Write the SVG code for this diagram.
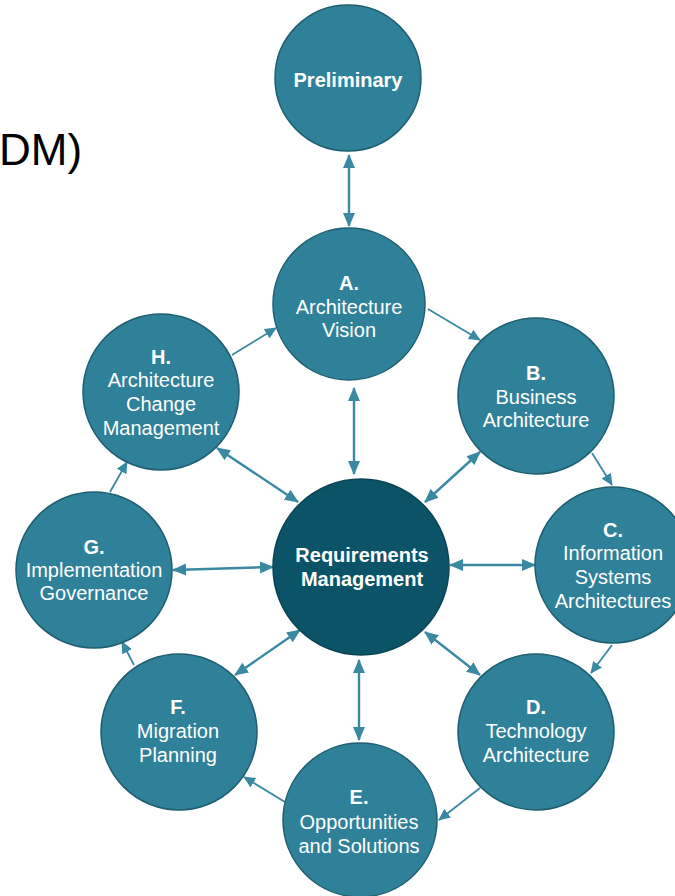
<svg xmlns="http://www.w3.org/2000/svg" width="675" height="896" viewBox="0 0 675 896">
<style>
  .node { fill: #2F8199; stroke: #1E5E70; stroke-width: 1.5; }
  .core { fill: #0B5468; stroke: #0A4455; stroke-width: 1.5; }
  .t { font-family: "Liberation Sans", Arial, sans-serif; font-size: 20px; fill: #FFFFFF; text-anchor: middle; }
  .b { font-weight: bold; }
  .cyc { stroke: #3A89A3; stroke-width: 1.8; fill: none; marker-end: url(#ah); }
  .spk { stroke: #3A89A3; stroke-width: 2.4; fill: none; marker-start: url(#ah2); marker-end: url(#ah2); }
</style>
<defs>
  <marker id="ah" viewBox="0 0 12 12" refX="11" refY="6" markerWidth="12" markerHeight="12" markerUnits="userSpaceOnUse" orient="auto">
    <path d="M0,0.5 L12,6 L0,11.5 z" fill="#3A89A3"/>
  </marker>
  <marker id="ah2" viewBox="0 0 14 14" refX="13" refY="7" markerWidth="14" markerHeight="14" markerUnits="userSpaceOnUse" orient="auto-start-reverse">
    <path d="M0,1 L14,7 L0,13 z" fill="#3A89A3"/>
  </marker>
</defs>
<rect width="675" height="896" fill="#FFFFFF"/>
<text x="-1" y="165" font-family="'Liberation Sans', Arial, sans-serif" font-size="44" fill="#000000">DM)</text>

<g id="connectors">
  <line class="spk" x1="349" y1="155" x2="349" y2="226"/>
  <line class="cyc" x1="428" y1="309" x2="480" y2="340"/>
  <line class="cyc" x1="592" y1="453" x2="612" y2="485"/>
  <line class="cyc" x1="612" y1="645" x2="591" y2="673"/>
  <line class="cyc" x1="480" y1="788" x2="439" y2="820"/>
  <line class="cyc" x1="285" y1="802" x2="244" y2="777"/>
  <line class="cyc" x1="134" y1="665" x2="122" y2="642"/>
  <line class="cyc" x1="110" y1="492" x2="127" y2="462"/>
  <line class="cyc" x1="232" y1="355" x2="276" y2="328"/>
  <line class="spk" x1="354" y1="388" x2="354" y2="474"/>
  <line class="spk" x1="217" y1="448" x2="298" y2="502"/>
  <line class="spk" x1="480" y1="452" x2="425" y2="502"/>
  <line class="spk" x1="173" y1="570" x2="273" y2="567"/>
  <line class="spk" x1="450" y1="565" x2="535" y2="565"/>
  <line class="spk" x1="235" y1="675" x2="300" y2="630"/>
  <line class="spk" x1="425" y1="632" x2="480" y2="675"/>
  <line class="spk" x1="359" y1="660" x2="359" y2="740"/>
</g>

<g id="preliminary">
  <circle class="node" cx="348" cy="78" r="73"/>
  <text class="t b" x="348" y="87">Preliminary</text>
</g>
<g id="a">
  <circle class="node" cx="349" cy="304" r="76"/>
  <text class="t b" x="349" y="290">A.</text>
  <text class="t" x="349" y="314">Architecture</text>
  <text class="t" x="349" y="337">Vision</text>
</g>
<g id="b">
  <circle class="node" cx="536" cy="396" r="78"/>
  <text class="t b" x="536" y="380">B.</text>
  <text class="t" x="536" y="404">Business</text>
  <text class="t" x="536" y="427">Architecture</text>
</g>
<g id="c">
  <circle class="node" cx="613" cy="565" r="78"/>
  <text class="t b" x="613" y="537">C.</text>
  <text class="t" x="613" y="560">Information</text>
  <text class="t" x="613" y="584">Systems</text>
  <text class="t" x="613" y="608">Architectures</text>
</g>
<g id="d">
  <circle class="node" cx="536" cy="732" r="78"/>
  <text class="t b" x="536" y="714">D.</text>
  <text class="t" x="536" y="738">Technology</text>
  <text class="t" x="536" y="762">Architecture</text>
</g>
<g id="e">
  <circle class="node" cx="360" cy="820" r="77"/>
  <text class="t b" x="359" y="804">E.</text>
  <text class="t" x="359" y="829">Opportunities</text>
  <text class="t" x="359" y="853">and Solutions</text>
</g>
<g id="f">
  <circle class="node" cx="179" cy="732" r="78"/>
  <text class="t b" x="178" y="714">F.</text>
  <text class="t" x="178" y="738">Migration</text>
  <text class="t" x="178" y="762">Planning</text>
</g>
<g id="g">
  <circle class="node" cx="94" cy="570" r="78"/>
  <text class="t b" x="94" y="554">G.</text>
  <text class="t" x="94" y="577">Implementation</text>
  <text class="t" x="94" y="600">Governance</text>
</g>
<g id="h">
  <circle class="node" cx="161" cy="392" r="78"/>
  <text class="t b" x="161" y="364">H.</text>
  <text class="t" x="161" y="387">Architecture</text>
  <text class="t" x="161" y="411">Change</text>
  <text class="t" x="161" y="435">Management</text>
</g>
<g id="requirements">
  <circle class="core" cx="361" cy="567" r="88"/>
  <text class="t b" x="362" y="562">Requirements</text>
  <text class="t b" x="362" y="586">Management</text>
</g>
</svg>
